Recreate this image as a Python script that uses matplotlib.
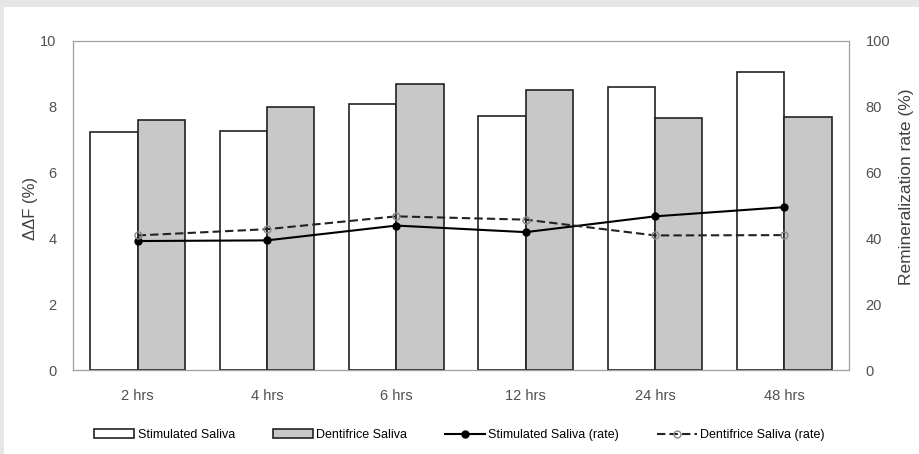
import matplotlib.pyplot as plt
import numpy as np
from matplotlib.patches import Rectangle

plt.rcParams['font.family'] = ['Liberation Sans', 'DejaVu Sans']

# Data
times = ['2 hrs', '4 hrs', '6 hrs', '12 hrs', '24 hrs', '48 hrs']
stim_dF = [7.22, 7.26, 8.08, 7.73, 8.59, 9.07]
dent_dF = [7.61, 7.99, 8.68, 8.52, 7.65, 7.69]
stim_rate = [39.2, 39.4, 43.9, 41.9, 46.7, 49.5]
dent_rate = [40.9, 42.8, 46.7, 45.7, 40.9, 41.0]

fig = plt.figure(figsize=(9.19, 4.54), dpi=100)
fig.patch.set_facecolor('#e6e6e6')
# white panel inside the grey frame
fig.patches.append(Rectangle((4 / 919, 0), 1, 1 - 7 / 454, transform=fig.transFigure,
                             facecolor='white', edgecolor='none', zorder=-10))

ax = fig.add_axes([73 / 919, 84 / 454, 776 / 919, 329 / 454])
ax2 = ax.twinx()

x = np.arange(len(times))
w = 0.365
b1 = ax.bar(x - w / 2, stim_dF, w, color='white', edgecolor='#222222', linewidth=1.2,
            label='Stimulated Saliva')
b2 = ax.bar(x + w / 2, dent_dF, w, color='#c8c8c8', edgecolor='#222222', linewidth=1.2,
            label='Dentifrice Saliva')

l1, = ax2.plot(x, stim_rate, color='black', linewidth=1.5, marker='o', markersize=5,
               label='Stimulated Saliva (rate)')
l2, = ax2.plot(x, dent_rate, color='#222222', linewidth=1.5, linestyle=(0, (4, 2)),
               marker='o', markersize=5, markerfacecolor='none', markeredgecolor='#888888',
               label='Dentifrice Saliva (rate)')

ax.set_xlim(-0.5, len(times) - 0.5)
ax.set_ylim(0, 10)
ax2.set_ylim(0, 100)
ax.set_xticks(x)
ax.set_xticklabels(times)
ax.set_yticks(range(0, 11, 2))
ax2.set_yticks(range(0, 101, 20))

for a in (ax, ax2):
    a.patch.set_alpha(0)
    a.tick_params(length=0, labelsize=10.5, colors='#505050', pad=12)
    for s in a.spines.values():
        s.set_color('#a0a0a0')
ax.spines['left'].set_color('#606060')
ax.spines['bottom'].set_color('#606060')
ax.tick_params(axis='x', pad=14)

ax.set_ylabel('ΔΔF (%)', fontsize=12, color='#404040')
ax.yaxis.set_label_coords(-0.045, 0.49)
ax2.set_ylabel('Remineralization rate (%)', fontsize=12.5, color='#404040')
ax2.yaxis.set_label_coords(1.064, 0.556)

fig.legend(handles=[b1, b2, l1, l2], loc='center', bbox_to_anchor=(0.5, 19 / 454),
           ncol=4, frameon=False, fontsize=9, handlelength=3.2, columnspacing=3.0,
           handletextpad=0.3)

fig.savefig('out.png', dpi=100, facecolor=fig.get_facecolor())
